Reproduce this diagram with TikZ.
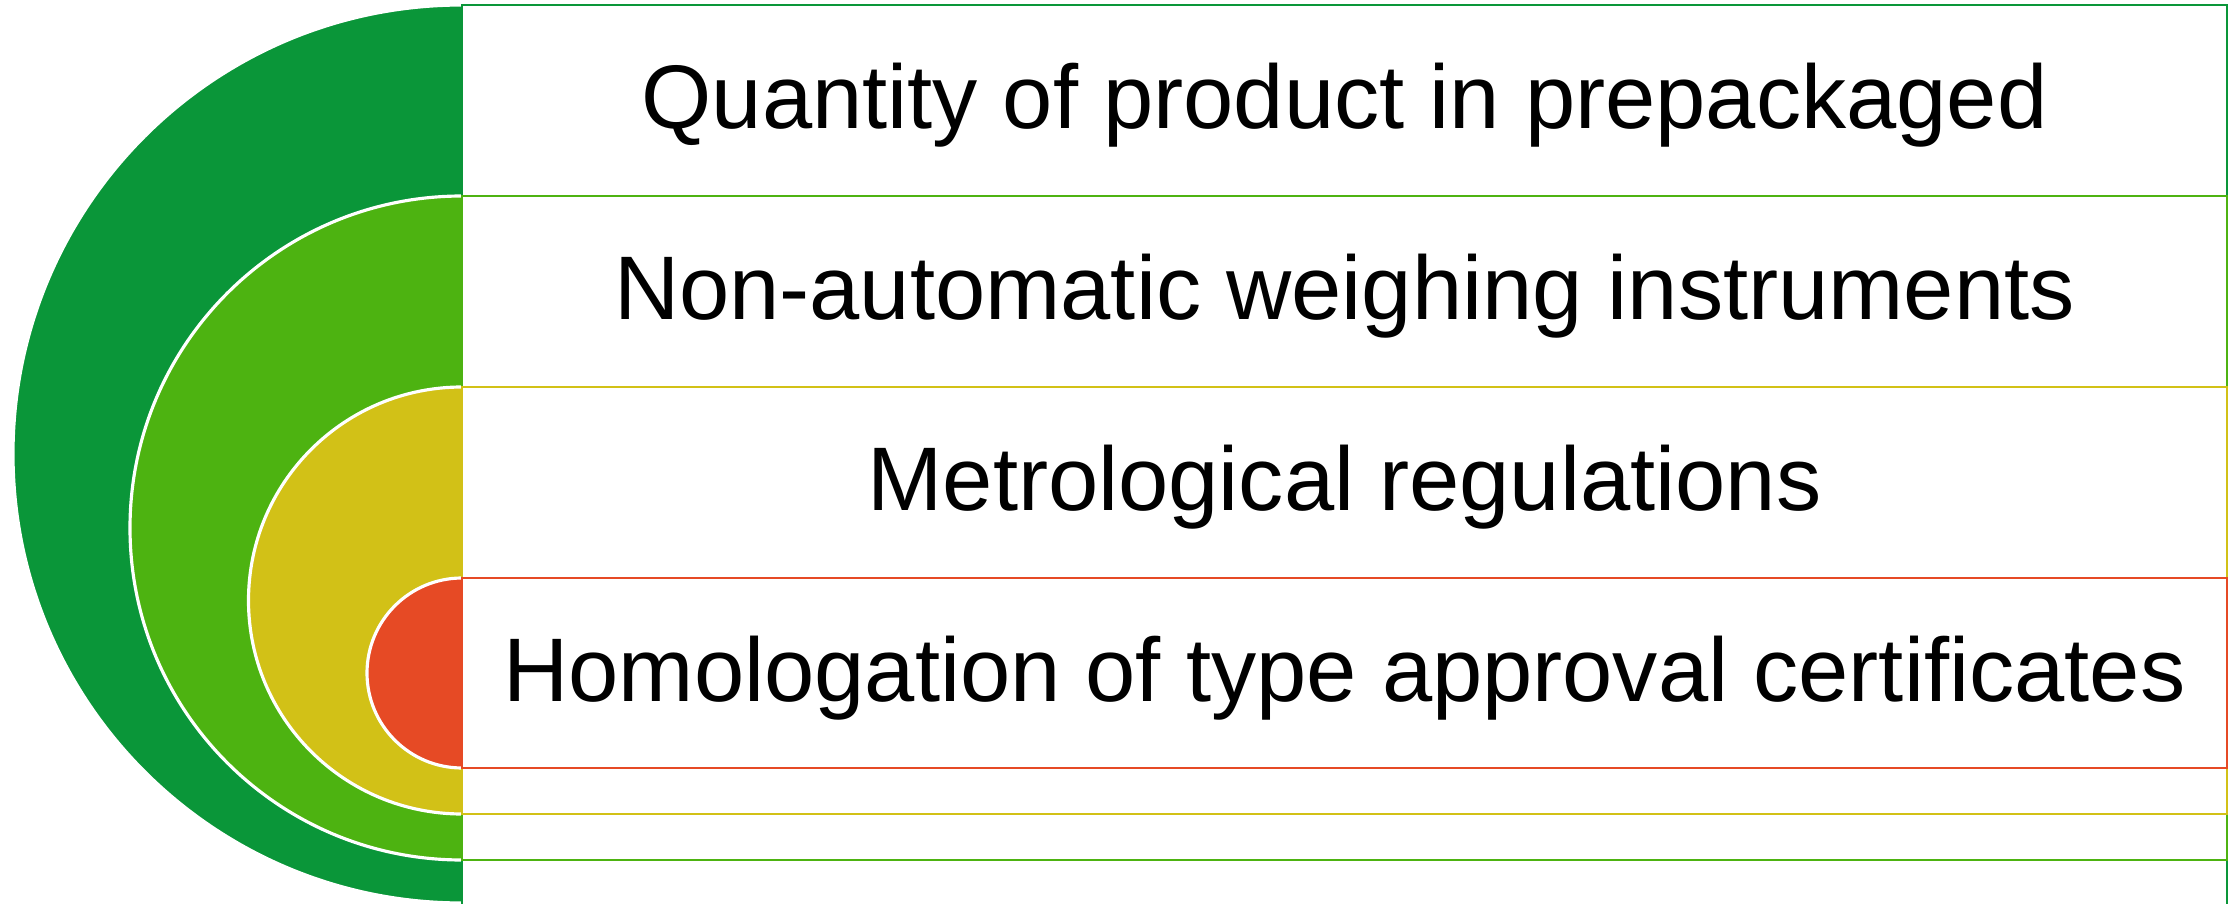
\documentclass[tikz,border=0pt]{standalone}
\usepackage{fontspec}
\setmainfont{Liberation Sans}
\definecolor{ringouter}{HTML}{0A9639}
\definecolor{ringsecond}{HTML}{4DB311}
\definecolor{ringthird}{HTML}{D2C117}
\definecolor{ringinner}{HTML}{E64A25}
\tikzset{
  band/.style={fill=white, line width=0.6pt},
  rim/.style={white, line width=0.9pt},
  bandtext/.style={anchor=base, yshift=-8pt, font=\fontsize{25.7}{30}\selectfont}
}
\begin{document}
\begin{tikzpicture}
    \useasboundingbox (0,0) rectangle (22.39,9.03);
    % half discs, largest first
    \fill[color=ringouter] (4.62,8.98) arc[start angle=90,end angle=270,radius=4.49] -- cycle;
    \draw[rim] (4.62,8.98) arc[start angle=90,end angle=270,radius=4.49];
    \fill[color=ringsecond] (4.62,7.07) arc[start angle=90,end angle=270,radius=3.32] -- cycle;
    \draw[rim] (4.62,7.07) arc[start angle=90,end angle=270,radius=3.32];
    \fill[color=ringthird] (4.62,5.16) arc[start angle=90,end angle=270,radius=2.135] -- cycle;
    \draw[rim] (4.62,5.16) arc[start angle=90,end angle=270,radius=2.135];
    \fill[color=ringinner] (4.62,3.25) arc[start angle=90,end angle=270,radius=0.95] -- cycle;
    \draw[rim] (4.62,3.25) arc[start angle=90,end angle=270,radius=0.95];
    % bands with their texts
    \draw[band,draw=ringouter] (4.62,-0.05) rectangle (22.27,8.98);
    \node[bandtext] (quantity) at (13.445,8.025) {Quantity of product in prepackaged};
    \draw[band,draw=ringsecond] (4.62,0.43) rectangle (22.27,7.07);
    \node[bandtext] (weighing) at (13.445,6.115) {Non-automatic weighing instruments};
    \draw[band,draw=ringthird] (4.62,0.89) rectangle (22.27,5.16);
    \node[bandtext] (regulations) at (13.445,4.205) {Metrological regulations};
    \draw[band,draw=ringinner] (4.62,1.35) rectangle (22.27,3.25);
    \node[bandtext] (homologation) at (13.445,2.30) {Homologation of type approval certificates};
\end{tikzpicture}
\end{document}
